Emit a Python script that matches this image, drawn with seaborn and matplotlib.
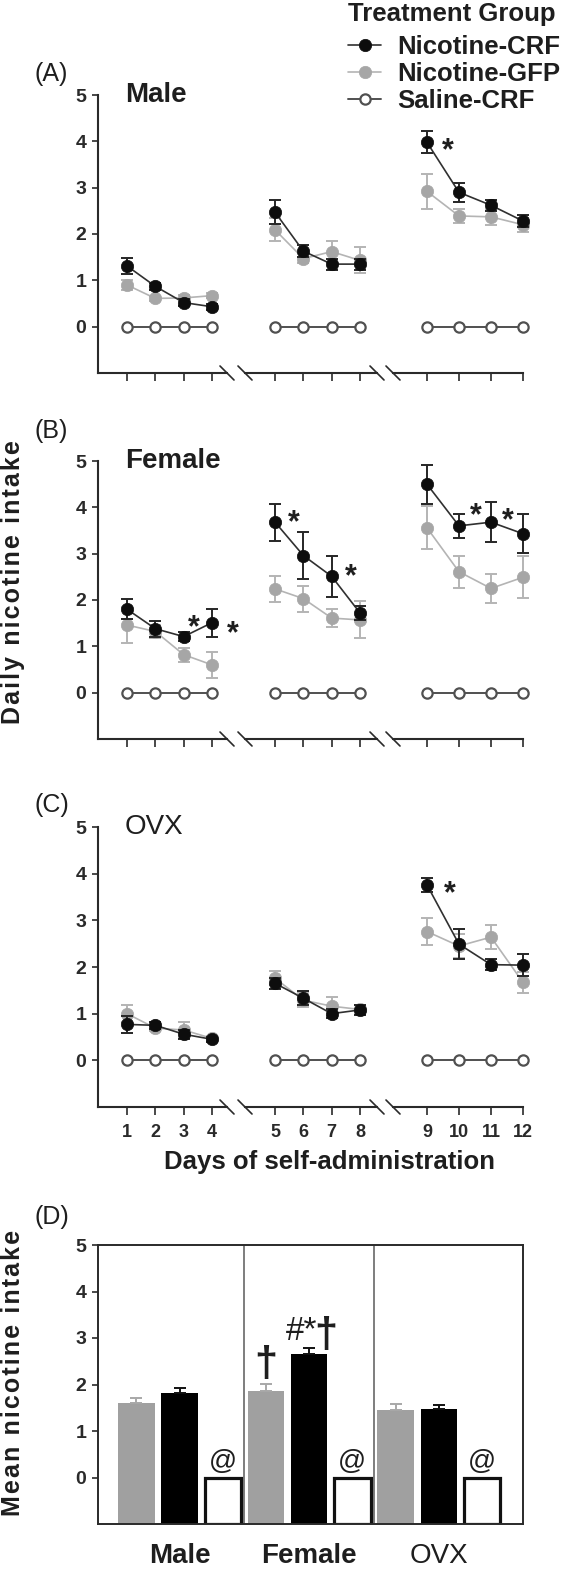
import numpy as np
import pandas as pd
import seaborn as sns
import matplotlib.pyplot as plt

# ---- data (mean +/- SEM) ----
days = list(range(1, 13))
groups = ["Nicotine-CRF", "Nicotine-GFP", "Saline-CRF"]
sexes = ["Male", "Female", "OVX"]

male_crf = [1.31, 0.87, 0.52, 0.43, 2.47, 1.63, 1.35, 1.35, 3.98, 2.90, 2.62, 2.28]
male_crf_sem = [0.18, 0.08, 0.08, 0.06, 0.26, 0.13, 0.12, 0.12, 0.24, 0.20, 0.12, 0.12]
male_gfp = [0.90, 0.61, 0.62, 0.67, 2.09, 1.47, 1.62, 1.43, 2.92, 2.39, 2.37, 2.20]
male_gfp_sem = [0.10, 0.06, 0.06, 0.06, 0.25, 0.10, 0.22, 0.28, 0.38, 0.15, 0.17, 0.15]

female_crf = [1.80, 1.38, 1.21, 1.51, 3.68, 2.96, 2.51, 1.72, 4.50, 3.60, 3.68, 3.43]
female_crf_sem = [0.22, 0.17, 0.10, 0.30, 0.40, 0.50, 0.45, 0.15, 0.42, 0.26, 0.43, 0.42]
female_gfp = [1.46, 1.32, 0.82, 0.60, 2.24, 2.03, 1.61, 1.57, 3.56, 2.61, 2.25, 2.49]
female_gfp_sem = [0.38, 0.15, 0.15, 0.28, 0.28, 0.28, 0.20, 0.40, 0.46, 0.35, 0.32, 0.45]

ovx_crf = [0.77, 0.75, 0.56, 0.45, 1.65, 1.33, 1.00, 1.08, 3.76, 2.49, 2.05, 2.04]
ovx_crf_sem = [0.18, 0.07, 0.10, 0.06, 0.12, 0.15, 0.10, 0.10, 0.15, 0.32, 0.12, 0.23]
ovx_gfp = [1.00, 0.69, 0.65, 0.47, 1.76, 1.29, 1.16, 1.09, 2.76, 2.45, 2.64, 1.67]
ovx_gfp_sem = [0.18, 0.07, 0.18, 0.06, 0.15, 0.15, 0.20, 0.10, 0.29, 0.25, 0.25, 0.22]

saline = [0.0] * 12

# significance stars: (x, y) in data units
male_stars = [(9.65, 3.98)]
female_stars = [(3.35, 1.57), (4.75, 1.44), (5.67, 3.84), (7.67, 2.67), (10.53, 3.99), (11.53, 3.88)]
ovx_stars = [(9.70, 3.74)]

# panel D: mean intake over all days
bar_order = ["Nicotine-GFP", "Nicotine-CRF", "Saline-CRF"]
bar_gfp = [1.60, 1.86, 1.46]
bar_gfp_sem = [0.11, 0.16, 0.12]
bar_crf = [1.82, 2.66, 1.47]
bar_crf_sem = [0.10, 0.13, 0.08]
bar_sal = [0.0, 0.0, 0.0]

INK = "#1e1e1e"
W, H = 566, 1569

sns.set_theme(style="ticks")
plt.rcParams["font.family"] = ["Liberation Sans", "DejaVu Sans"]
plt.rcParams["text.color"] = INK
plt.rcParams["axes.edgecolor"] = "#2a2a2a"
plt.rcParams["xtick.color"] = "#2a2a2a"
plt.rcParams["ytick.color"] = "#2a2a2a"

fig = plt.figure(figsize=(W / 100, H / 100), dpi=100)


def px_axes(x0, y0, x1, y1):
    return fig.add_axes([x0 / W, 1 - y1 / H, (x1 - x0) / W, (y1 - y0) / H])


seg_px = [(98, 227), (245, 377), (393, 523)]
seg_xlim = [(-0.025, 4.53), (3.94, 8.60), (7.94, 12.0)]

series_style = {
    "Nicotine-GFP": dict(color="#b4b4b4", mfc="#a6a6a6", mec="#a6a6a6", ms=8.9, mew=0.5, lw=1.2,
                         ecolor="#b4b4b4", z=2),
    "Nicotine-CRF": dict(color="#303030", mfc="#0d0d0d", mec="#0d0d0d", ms=8.9, mew=0.5, lw=1.2,
                         ecolor="#262626", z=3),
    "Saline-CRF": dict(color="#505050", mfc="white", mec="#505050", ms=7.4, mew=1.6, lw=1.4,
                       ecolor="#505050", z=4),
}


def line_panel(top, bottom, crf, crf_sem, gfp, gfp_sem, stars, title, title_weight, labels):
    axes = []
    for k, ((x0, x1), lim) in enumerate(zip(seg_px, seg_xlim)):
        ax = px_axes(x0, top, x1, bottom)
        sl = slice(4 * k, 4 * k + 4)
        seg_days = days[sl]
        for name, vals, sem in [("Nicotine-GFP", gfp, gfp_sem),
                                ("Nicotine-CRF", crf, crf_sem),
                                ("Saline-CRF", saline, None)]:
            st = series_style[name]
            if sem is not None:
                ax.errorbar(seg_days, vals[sl], yerr=sem[sl], fmt="none", ecolor=st["ecolor"],
                            elinewidth=1.4, capsize=4, capthick=1.4, zorder=st["z"], clip_on=False)
            sns.lineplot(x=seg_days, y=vals[sl], ax=ax, color=st["color"], marker="o",
                         markersize=st["ms"], markerfacecolor=st["mfc"], markeredgecolor=st["mec"],
                         markeredgewidth=st["mew"], linewidth=st["lw"], errorbar=None,
                         legend=False, label=name, zorder=st["z"] + 0.5, clip_on=False)
        ax.set_xlim(*lim)
        ax.set_ylim(-1, 5)
        ax.set_xticks(seg_days)
        ax.set_xlabel("")
        ax.set_ylabel("")
        ax.tick_params(axis="x", length=6, width=1.2, pad=6, labelsize=13)
        if labels:
            ax.set_xticklabels([str(d) for d in seg_days], fontweight="bold", color="#2a2a2a")
        else:
            ax.set_xticklabels([])
        for side in ["top", "right"]:
            ax.spines[side].set_visible(False)
        ax.spines["bottom"].set_linewidth(1.5)
        if k == 0:
            ax.set_yticks(range(0, 6))
            ax.set_yticklabels([str(v) for v in range(0, 6)], fontweight="bold", color="#2a2a2a")
            ax.tick_params(axis="y", length=4.5, width=1.2, pad=4, labelsize=14)
            ax.spines["left"].set_linewidth(1.5)
        else:
            ax.spines["left"].set_visible(False)
            ax.set_yticks([])
        # axis break marks
        dx = 7 / (x1 - x0)
        dy = 7 / (bottom - top)
        ends = []
        if k < 2:
            ends.append(1.0)
        if k > 0:
            ends.append(0.0)
        for e in ends:
            ax.plot([e - dx, e + dx], [dy, -dy], transform=ax.transAxes, color="#2a2a2a",
                    lw=1.2, clip_on=False)
        ax.patch.set_alpha(0)
        axes.append(ax)

    for sx, sy in stars:
        idx = 0 if sx < 4.9 else (1 if sx < 8.9 else 2)
        axes[idx].annotate("*", xy=(sx, sy), xytext=(0, -12), textcoords="offset points",
                           ha="center", va="baseline", fontsize=22, fontweight="bold", color=INK,
                           annotation_clip=False)
    axes[0].text(0.21, 1.0, title, transform=axes[0].transAxes, ha="left", va="center",
                 fontsize=20, fontweight=title_weight, color=INK)
    return axes


axA = line_panel(95, 373, male_crf, male_crf_sem, male_gfp, male_gfp_sem, male_stars, "Male", "bold", False)
axB = line_panel(461, 739, female_crf, female_crf_sem, female_gfp, female_gfp_sem, female_stars, "Female", "bold", False)
axC = line_panel(827, 1107, ovx_crf, ovx_crf_sem, ovx_gfp, ovx_gfp_sem, ovx_stars, "OVX", "normal", True)

fig.text(330 / W, 1 - 1162 / H, "Days of self-administration", ha="center", va="center",
         fontsize=18.5, fontweight="bold", color=INK)

# ---- panel D ----
axD = px_axes(98, 1245, 523, 1524)
bar_df = pd.DataFrame({
    "sex": np.repeat(sexes, 3),
    "group": bar_order * 3,
    "mean": [v for trio in zip(bar_gfp, bar_crf, bar_sal) for v in trio],
    "sem": [v for trio in zip(bar_gfp_sem, bar_crf_sem, [0, 0, 0]) for v in trio],
})
bar_palette = {"Nicotine-GFP": "#a0a0a0", "Nicotine-CRF": "#000000", "Saline-CRF": "#ffffff"}
sns.barplot(data=bar_df, x="sex", y="mean", hue="group", order=sexes, hue_order=bar_order,
            palette=bar_palette, saturation=1, width=1.0, gap=0.16, errorbar=None,
            legend=False, ax=axD)
axD.set_ylim(-1, 5)
axD.set_xlim(-0.63, 2.65)
err_colors = {"Nicotine-GFP": "#a8a8a8", "Nicotine-CRF": "#111111", "Saline-CRF": "#111111"}
for cont, level in zip(axD.containers, bar_order):
    sub = bar_df[bar_df["group"] == level].set_index("sex").loc[sexes]
    xs = []
    for bar in cont:
        h = bar.get_height()
        bar.set_y(-1)
        bar.set_height(h + 1)
        xs.append(bar.get_x() + bar.get_width() / 2)
        if level == "Saline-CRF":
            bar.set_edgecolor("#111111")
            bar.set_linewidth(2.3)
        else:
            bar.set_linewidth(0)
    if level != "Saline-CRF":
        sem = sub["sem"].values
        axD.errorbar(xs, sub["mean"].values, yerr=[np.zeros_like(sem), sem], fmt="none",
                     ecolor=err_colors[level], elinewidth=1.4, capsize=4.5, capthick=1.4, zorder=3)
    else:
        for x, v in zip(xs, sub["mean"].values):
            axD.text(x, v + 0.06, "@", ha="center", va="bottom", fontsize=20, color=INK)
    if level == "Nicotine-GFP":
        gfp_x = xs
    if level == "Nicotine-CRF":
        crf_x = xs

# significance marks on female bars
axD.text(gfp_x[1], 1.98, "\u2020", ha="center", va="bottom", fontsize=30, fontweight="bold", color=INK)
axD.text(crf_x[1] + 0.06, 2.80, "#*", ha="right", va="bottom", fontsize=24, color=INK)
axD.text(crf_x[1] + 0.13, 2.62, "\u2020", ha="center", va="bottom", fontsize=30, fontweight="bold", color=INK)

for b in [0.5, 1.5]:
    axD.axvline(b, color="#5a5a5a", lw=1.1, zorder=0.5)
for side in axD.spines:
    axD.spines[side].set_linewidth(1.4)
axD.set_yticks(range(0, 6))
axD.set_yticklabels([str(v) for v in range(0, 6)], fontweight="bold", color="#2a2a2a")
axD.tick_params(axis="y", length=4.5, width=1.2, pad=4, labelsize=14)
axD.tick_params(axis="x", length=0, pad=14, labelsize=20)
axD.set_xticks(range(3))
axD.set_xticklabels(sexes, color=INK)
for lab, w in zip(axD.get_xticklabels(), ["bold", "bold", "normal"]):
    lab.set_fontweight(w)
axD.set_xlabel("")
axD.set_ylabel("")

# ---- y labels, panel letters, legend ----
sp = "\u200a"
fig.text(13 / W, 1 - 582 / H, sp.join("Daily nicotine intake"), rotation=90, ha="center",
         va="center", fontsize=18, fontweight="bold", color=INK)
fig.text(13 / W, 1 - 1373 / H, sp.join("Mean nicotine intake"), rotation=90, ha="center",
         va="center", fontsize=18, fontweight="bold", color=INK)

for letter, yc in [("(A)", 74), ("(B)", 431), ("(C)", 805), ("(D)", 1217)]:
    fig.text(34 / W, 1 - yc / H, letter, ha="left", va="center", fontsize=18, color=INK)

fig.text(348 / W, 1 - 14 / H, "Treatment Group", ha="left", va="center",
         fontsize=18.5, fontweight="bold", color=INK)
handles, labels = axA[0].get_legend_handles_labels()
lookup = dict(zip(labels, handles))
leg = fig.legend([lookup[g] for g in groups], groups,
                 loc="upper left", bbox_to_anchor=(348 / W, 1 - 35 / H), frameon=False,
                 borderpad=0, borderaxespad=0, handlelength=1.3, handletextpad=0.6,
                 labelspacing=0.12, prop=dict(weight="bold", size=18.5))

fig.savefig("out.png", dpi=100)
